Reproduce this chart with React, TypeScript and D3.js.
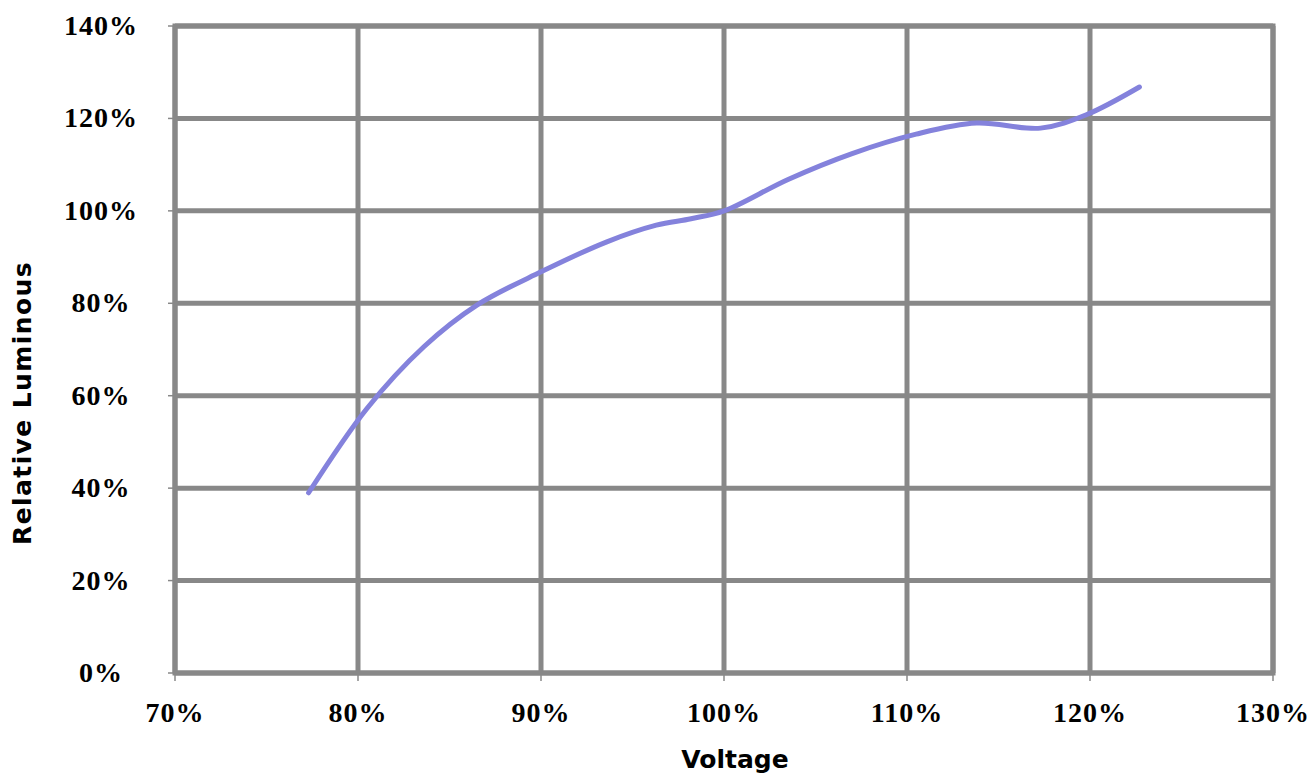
import React from "react";
import * as d3 from "d3";

// values (voltage %, relative luminous %)
const voltage = [77.3, 80.5, 83.6, 86.5, 90, 93.6, 96.3, 98.2, 100, 103.5, 107, 110.5, 113.8, 117.3, 119.8, 122.7];
const luminous = [39, 57.3, 70.6, 79.6, 86.8, 93.3, 96.9, 98.3, 100, 106.8, 112.4, 116.6, 119, 117.9, 120.8, 126.8];

const xTicks = [70, 80, 90, 100, 110, 120, 130];
const yTicks = [0, 20, 40, 60, 80, 100, 120, 140];

const WIDTH = 1313;
const HEIGHT = 782;
const LEFT = 175;
const RIGHT = 1273;
const TOP = 26;
const BOTTOM = 673;

const GRID = "#888888";
const LINE = "#8482dc";

export default function App() {
  const x = d3.scaleLinear().domain([70, 130]).range([LEFT, RIGHT]);
  const y = d3.scaleLinear().domain([0, 140]).range([BOTTOM, TOP]);

  const points = voltage.map((v, i) => [v, luminous[i]] as [number, number]);
  const line = d3
    .line<[number, number]>()
    .x((d) => x(d[0]))
    .y((d) => y(d[1]))
    .curve(d3.curveCatmullRom.alpha(0.5));

  const tickFont = "'Liberation Serif', 'Times New Roman', serif";
  const titleFont = "'DejaVu Sans', Verdana, sans-serif";

  return (
    <svg
      width={WIDTH}
      height={HEIGHT}
      style={{ position: "absolute", left: 0, top: 0, background: "#fff" }}
    >
      {/* horizontal gridlines + small ticks on the left */}
      {yTicks.map((t) => (
        <g key={"y" + t}>
          <line x1={LEFT - 7} x2={LEFT} y1={y(t)} y2={y(t)} stroke={GRID} strokeWidth={1.5} />
          <line x1={LEFT} x2={RIGHT} y1={y(t)} y2={y(t)} stroke={GRID} strokeWidth={5} />
          <text
            x={101}
            y={y(t) + 9}
            textAnchor="middle"
            fontFamily={tickFont}
            fontWeight="bold"
            fontSize={28}
            letterSpacing={1}
            fill="#000"
          >
            {t}%
          </text>
        </g>
      ))}

      {/* vertical gridlines + small ticks at bottom */}
      {xTicks.map((t) => (
        <g key={"x" + t}>
          <line x1={x(t)} x2={x(t)} y1={BOTTOM} y2={BOTTOM + 8} stroke={GRID} strokeWidth={1.5} />
          <line x1={x(t)} x2={x(t)} y1={TOP} y2={BOTTOM} stroke={GRID} strokeWidth={5} />
          <text
            x={x(t)}
            y={722}
            textAnchor="middle"
            fontFamily={tickFont}
            fontWeight="bold"
            fontSize={28}
            letterSpacing={1}
            fill="#000"
          >
            {t}%
          </text>
        </g>
      ))}

      <rect
        x={LEFT}
        y={TOP}
        width={RIGHT - LEFT}
        height={BOTTOM - TOP}
        fill="none"
        stroke={GRID}
        strokeWidth={5}
      />

      <path
        d={line(points) ?? ""}
        fill="none"
        stroke={LINE}
        strokeWidth={5}
        strokeLinecap="round"
        strokeLinejoin="round"
      />

      <text
        x={735}
        y={768}
        textAnchor="middle"
        fontFamily={titleFont}
        fontWeight="bold"
        fontSize={25}
        fill="#000"
      >
        Voltage
      </text>
      <text
        transform={`translate(31, 403) rotate(-90)`}
        textAnchor="middle"
        fontFamily={titleFont}
        fontWeight="bold"
        fontSize={25}
        letterSpacing={1.4}
        fill="#000"
      >
        Relative Luminous
      </text>
    </svg>
  );
}
